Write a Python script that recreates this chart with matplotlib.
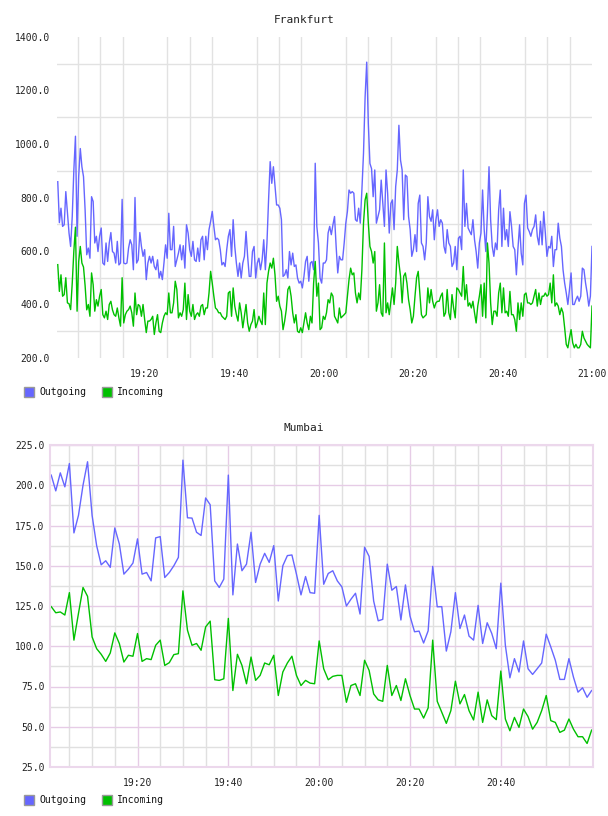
import numpy as np
import matplotlib
matplotlib.use("Agg")
from matplotlib import pyplot as plt
from matplotlib.patches import Rectangle

# Frankfurt, roughly 20 s samples from 19:00 to 21:00
frankfurt_out = [
    859, 706, 760, 692, 698, 822, 747, 667, 617, 729,
    903, 1029, 655, 878, 983, 915, 878, 753, 586, 611,
    573, 803, 785, 630, 655, 598, 655, 686, 555, 548,
    630, 561, 630, 669, 598, 592, 555, 636, 548, 555,
    793, 555, 552, 555, 611, 642, 623, 530, 800, 555,
    567, 669, 617, 580, 605, 493, 555, 580, 555, 580,
    542, 530, 567, 499, 524, 493, 555, 623, 573, 741,
    605, 605, 692, 542, 567, 592, 623, 567, 620, 536, 698,
    667, 605, 580, 636, 567, 561, 611, 561, 642, 655,
    567, 655, 605, 680, 711, 748, 692, 642, 648, 642,
    605, 548, 557, 542, 605, 655, 680, 580, 717, 617,
    555, 505, 555, 499, 555, 580, 673, 580, 505, 505,
    598, 617, 499, 555, 573, 530, 567, 642, 530, 630,
    790, 934, 853, 915, 841, 772, 772, 760, 717, 505,
    511, 530, 499, 598, 548, 592, 542, 548, 499, 480,
    487, 462, 505, 561, 580, 487, 555, 561, 530, 928,
    692, 630, 499, 480, 555,
    555, 567, 667, 692, 661, 698, 729, 617, 518, 580,
    567, 567, 630, 704, 748, 828, 816, 822, 816, 717,
    711, 760, 704, 828, 965, 1176, 1306, 1076, 927, 908,
    803, 903, 704, 729, 754, 865, 778, 692, 903, 816,
    667, 778, 791, 680, 841, 903, 1070, 940, 903, 717,
    884, 878, 729, 680, 580, 605, 661, 598, 778, 809,
    630, 617, 567, 630, 803, 729, 711, 754, 642, 717,
    754, 692, 717, 704, 617, 592, 680, 630, 617, 542,
    555, 617, 530, 648,
    655, 605, 903, 692, 778, 686, 673, 661, 717, 642,
    598, 536, 630, 667, 828, 680, 598, 741, 915, 717,
    617, 580, 630, 605, 754, 828, 617, 760, 642, 680,
    617, 747, 692, 617, 605, 511, 611, 698, 592, 548,
    778, 809, 686, 673, 655, 680, 692, 735, 655, 623,
    711, 623, 747, 667, 580, 617, 611, 655, 542, 605,
    605, 704, 648, 617, 530, 480, 443, 400, 456, 518,
    400, 400, 418, 431, 412, 431, 536, 530, 480, 443,
    394, 431, 617,
]
frankfurt_in = [
    549, 449, 511, 431, 437, 500, 406, 403, 381, 480,
    600, 689, 375, 560, 617, 555, 540, 470, 380, 400,
    356, 518, 474, 375, 418, 394, 431, 456, 362, 350,
    375, 344, 400, 412, 380, 362, 356, 387, 350, 319,
    500, 331, 362, 375, 381, 394, 369, 319, 443, 362,
    400, 394, 356, 400, 344, 295, 338, 338, 344, 356,
    288, 331, 362, 300, 295, 331, 356, 369, 362, 443,
    369, 369, 406, 487, 456, 350, 369, 356, 381, 480, 344,
    437, 375, 356, 400, 344, 362, 369, 356, 394, 400,
    362, 387, 387, 443, 524, 480, 431, 387, 381, 369,
    369, 356, 350, 344, 356, 443, 449, 356, 462, 394,
    362, 338, 406, 369, 313, 356, 400, 331, 300, 325,
    338, 381, 313, 331, 356, 338, 325, 443, 325, 480,
    524, 555, 536, 573, 511, 412, 431, 394, 375, 306,
    338, 381, 456, 468, 431, 369, 331, 362, 300, 295,
    313, 295, 331, 369, 331, 306, 356, 331, 480, 561,
    431, 480, 306, 313, 356,
    344, 369, 418, 406, 443, 431, 356, 344, 331, 387,
    350, 356, 362, 369, 431, 493, 536, 511, 518, 443,
    406, 443, 418, 530, 704, 791, 816, 704, 617, 598,
    555, 598, 375, 406, 474, 369, 356, 630, 369, 406,
    362, 412, 462, 400, 480, 617, 555, 506, 406, 506,
    518, 480, 418, 381, 331, 356, 431, 500, 524, 443,
    362, 350, 356, 362, 462, 406, 456, 412, 387, 406,
    412, 412, 431, 443, 356, 369, 456, 369, 344, 437,
    387, 350, 462, 456,
    443, 431, 542, 418, 474, 394, 406, 387, 412, 369,
    331, 394, 431, 474, 356, 480, 350, 630, 555, 406,
    325, 375, 375, 356, 443, 480, 369, 462, 369, 375,
    356, 449, 362, 362, 344, 300, 406, 344, 406, 356,
    437, 443, 406, 406, 400, 406, 431, 456, 394, 443,
    400, 431, 431, 443, 431, 437, 480, 406, 511, 394,
    406, 394, 362, 387, 369, 313, 251, 238, 275, 306,
    257, 238, 251, 238, 238, 251, 300, 275, 263, 251,
    244, 238, 394,
]

# Mumbai, one sample per minute, 19:01 .. 21:00
mumbai_out = [
    206.3, 196.5, 207.7, 199.0, 213.5, 170.4, 181.3, 200.0, 214.6, 181.3,
    162.5, 150.6, 153.1, 149.0, 173.5, 163.5, 144.8, 147.9, 151.7, 166.7,
    144.8, 145.8, 140.6, 167.3, 168.1, 142.7, 145.8, 150.0, 155.2, 215.6,
    179.8, 179.6, 170.8, 168.8, 192.1, 187.9, 140.6, 136.5, 141.7, 206.3,
    131.9, 163.5, 146.9, 151.0, 170.8, 139.6, 151.0, 157.7, 152.1, 162.5,
    128.1, 150.0, 156.3, 156.7, 144.8, 131.9, 143.3, 133.3, 132.9, 181.3,
    138.5, 145.2, 146.9, 140.6, 136.9, 125.0, 129.2, 132.9, 120.0, 161.5,
    155.8, 128.1, 115.8, 116.7, 151.0, 134.8, 137.1, 116.3, 138.1, 118.8,
    109.0, 109.4, 102.0, 109.6, 149.6, 124.5, 124.6, 97.0, 109.0, 133.3,
    111.0, 119.4, 106.3, 103.8, 125.4, 101.7, 114.6, 108.0, 98.5, 139.2,
    100.6, 80.4, 92.3, 84.0, 103.3, 86.0, 82.5, 86.0, 89.6, 107.5,
    99.6, 91.3, 79.4, 79.4, 92.3, 80.8, 71.5, 74.2, 68.3, 72.5,
]
mumbai_in = [
    124.6, 120.8, 121.3, 119.4, 133.3, 103.8, 120.4, 136.5, 131.0, 105.8,
    98.5, 95.0, 90.6, 95.8, 108.3, 101.7, 90.2, 94.4, 93.8, 107.9,
    90.6, 92.3, 91.7, 100.6, 103.8, 88.1, 89.8, 94.8, 95.4, 134.4,
    110.0, 100.6, 101.7, 97.5, 112.0, 115.6, 79.2, 78.8, 79.8, 117.3,
    72.5, 95.0, 88.1, 76.7, 93.3, 78.8, 81.9, 89.6, 88.5, 94.4,
    69.4, 84.0, 89.6, 93.8, 81.9, 75.6, 78.8, 77.1, 76.7, 103.3,
    86.0, 79.2, 81.3, 81.9, 81.9, 65.2, 75.6, 76.7, 69.4, 91.3,
    85.0, 70.4, 66.7, 65.8, 88.1, 69.4, 75.6, 66.3, 79.8, 69.4,
    61.0, 61.0, 55.4, 61.7, 103.8, 65.8, 59.0, 52.1, 60.0, 78.3,
    64.2, 70.0, 60.0, 54.2, 71.5, 52.7, 66.7, 56.9, 54.4, 84.6,
    54.8, 47.5, 55.8, 49.6, 61.0, 56.3, 48.5, 52.7, 60.0, 69.4,
    53.8, 52.7, 46.5, 47.9, 54.8, 48.5, 43.8, 43.8, 39.6, 47.9,
]

time_labels = ["19:20", "19:40", "20:00", "20:20", "20:40", "21:00"]
label_minutes = [20, 40, 60, 80, 100, 120]

BLUE = "#6666ff"
GREEN = "#00c000"
FONT = "DejaVu Sans Mono"

plt.rcParams["font.family"] = FONT

fig = plt.figure(figsize=(6.08, 8.16), dpi=100)


def legend(y):
    for x0, col, txt in [(24, BLUE, "Outgoing"), (102, GREEN, "Incoming")]:
        fig.patches.append(Rectangle((x0 / 608, 1 - (y + 5) / 816), 10 / 608, 10 / 816,
                                     transform=fig.transFigure, facecolor=col,
                                     edgecolor="#999999", linewidth=1))
        fig.text((x0 + 15) / 608, 1 - y / 816, txt, fontsize=7, va="center",
                 ha="left", color="#111111")


def style_axes(ax, ylabels):
    ax.tick_params(length=0, labelsize=7, colors="#222222")
    ax.tick_params(axis="x", pad=8)
    ax.set_yticks(ylabels)
    ax.set_yticklabels(["%.1f" % v for v in ylabels])


# ---- Frankfurt ----
ax1 = fig.add_axes([57 / 608, 1 - 358 / 816, 535 / 608, 321 / 816])
t1 = np.linspace(0.5, 120, len(frankfurt_out))
ax1.plot(t1, frankfurt_out, color=BLUE, lw=1.0)
ax1.plot(t1, frankfurt_in, color=GREEN, lw=1.0)
ax1.set_xlim(0.33, 120)
ax1.set_ylim(200, 1400)
style_axes(ax1, list(range(200, 1401, 200)))
ax1.tick_params(axis="y", pad=5)
ax1.set_xticks(label_minutes)
ax1.set_xticklabels(time_labels)
ax1.set_xticks(range(5, 121, 5), minor=True)
ax1.set_yticks(range(300, 1400, 200), minor=True)
ax1.tick_params(which="minor", length=0)
ax1.grid(False)
ax1.grid(True, which="minor", color="#e2e2e2", lw=1)
for s in ax1.spines.values():
    s.set_visible(False)
ax1.set_axisbelow(True)
fig.text(304 / 608, 1 - 20 / 816, "Frankfurt", fontsize=8, ha="center", va="center",
         color="#222222")
legend(392)

# ---- Mumbai ----
ax2 = fig.add_axes([50 / 608, 1 - 767 / 816, 543 / 608, 322 / 816])
t2 = np.arange(1, len(mumbai_out) + 1)
ax2.plot(t2, mumbai_out, color=BLUE, lw=1.0)
ax2.plot(t2, mumbai_in, color=GREEN, lw=1.0)
ax2.set_xlim(0.73, 120.3)
ax2.set_ylim(25, 225)
style_axes(ax2, [25 + 25 * i for i in range(9)])
ax2.tick_params(axis="y", pad=4)
ax2.set_xticks(label_minutes[:-1])
ax2.set_xticklabels(time_labels[:-1])
ax2.set_xticks([m for m in range(5, 120, 5) if m % 20], minor=True)
ax2.set_yticks([37.5 + 25 * i for i in range(8)], minor=True)
ax2.tick_params(which="minor", length=0)
ax2.grid(True, which="major", color="#e6cce6", lw=1)
ax2.grid(True, which="minor", color="#e0e0e0", lw=1)
for s in ax2.spines.values():
    s.set_color("#ecd8ec")
    s.set_linewidth(1.5)
ax2.set_axisbelow(True)
fig.text(304 / 608, 1 - 428 / 816, "Mumbai", fontsize=8, ha="center", va="center",
         color="#222222")
legend(800)

plt.savefig("out.png", dpi=100)
